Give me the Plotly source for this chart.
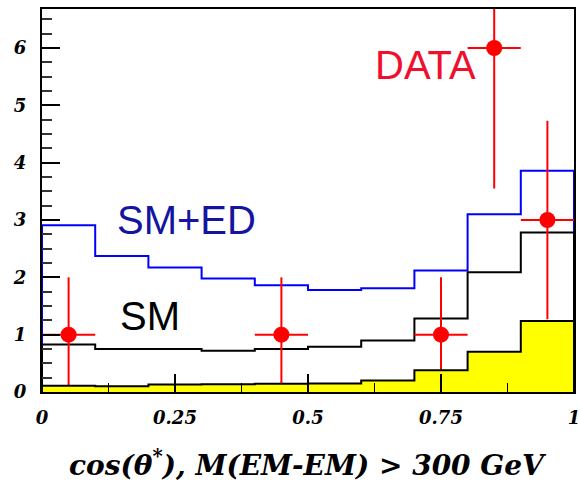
import plotly.graph_objects as go

# ---- data ----
bin_edges = [0.0, 0.1, 0.2, 0.3, 0.4, 0.5, 0.6, 0.7, 0.8, 0.9, 1.0]
sm_ed = [2.91, 2.37, 2.17, 1.98, 1.86, 1.78, 1.81, 2.12, 3.10, 3.86]
sm = [0.83, 0.75, 0.75, 0.72, 0.75, 0.79, 0.90, 1.28, 2.09, 2.78]
bkg = [0.11, 0.10, 0.13, 0.135, 0.145, 0.15, 0.20, 0.38, 0.70, 1.24]
data_x = [0.05, 0.45, 0.75, 0.85, 0.95]
data_y = [1, 1, 1, 6, 3]
data_err = [1.0, 1.0, 1.0, 2.45, 1.73]
data_xerr = [0.05, 0.05, 0.05, 0.05, 0.05]
x_ticks = [0, 0.25, 0.5, 0.75, 1]
y_ticks = [0, 1, 2, 3, 4, 5, 6]


def step_xy(edges, vals):
    xs = [edges[0]] + list(edges[:-1]) + [edges[-1], edges[-1]]
    ys = [0] + list(vals) + [vals[-1], 0]
    return xs, ys


fig = go.Figure()

bx, by = step_xy(bin_edges, sm_ed)
fig.add_trace(go.Scatter(x=bx, y=by, mode="lines", line=dict(color="#0000ff", width=2, shape="hv"),
                         showlegend=False, hoverinfo="skip"))
sx, sy = step_xy(bin_edges, sm)
fig.add_trace(go.Scatter(x=sx, y=sy, mode="lines", line=dict(color="#000000", width=2, shape="hv"),
                         showlegend=False, hoverinfo="skip"))
fig.add_trace(go.Scatter(
    x=data_x, y=data_y, mode="markers",
    marker=dict(color="#ff0000", size=16, line=dict(width=0)),
    error_y=dict(type="data", array=data_err, color="#ff0000", thickness=2, width=0),
    error_x=dict(type="data", array=data_xerr, color="#ff0000", thickness=2, width=0),
    showlegend=False))
yx, yy = step_xy(bin_edges, bkg)
fig.add_trace(go.Scatter(x=yx, y=yy, mode="lines", fill="tozeroy", fillcolor="#ffff00",
                         line=dict(color="#000000", width=2, shape="hv"),
                         showlegend=False, hoverinfo="skip"))

axis_font = dict(family="DejaVu Serif", size=18, color="black")

fig.update_xaxes(range=[0, 1], tickvals=x_ticks, ticktext=[f"<b><i>{v:g}</i></b>" for v in x_ticks],
                 ticks="inside", ticklen=18, tickwidth=1.5, tickcolor="black",
                 minor=dict(dtick=0.125, ticks="inside", ticklen=9, tickcolor="black", tickwidth=1),
                 showline=True, linecolor="black", linewidth=2, mirror=True, automargin=False,
                 ticklabeloverflow="allow",
                 showgrid=False, zeroline=False, tickfont=axis_font, ticklabelstandoff=8)
fig.update_yaxes(range=[0, 6.68], tickvals=y_ticks, ticktext=[f"<b><i>{v}</i></b>" for v in y_ticks],
                 ticks="inside", ticklen=18, tickwidth=1.5, tickcolor="black",
                 minor=dict(dtick=0.25, ticks="inside", ticklen=10, tickcolor="#333333", tickwidth=1.5),
                 showline=True, linecolor="black", linewidth=2, mirror=True, automargin=False,
                 ticklabeloverflow="allow",
                 showgrid=False, zeroline=False, tickfont=axis_font, ticklabelstandoff=10)

ann_font = "Liberation Sans, Arial, sans-serif"
fig.add_annotation(x=0.137, xref="paper", y=3.0, yref="y", text="SM+ED", showarrow=False,
                   xanchor="left", yanchor="middle", font=dict(family=ann_font, size=40, color="#1414a0"))
fig.add_annotation(x=0.143, xref="paper", y=1.33, yref="y", text="SM", showarrow=False,
                   xanchor="left", yanchor="middle", font=dict(family=ann_font, size=40, color="black"))
fig.add_annotation(x=0.622, xref="paper", y=5.71, yref="y", text="DATA", showarrow=False,
                   xanchor="left", yanchor="middle", font=dict(family=ann_font, size=40, color="#f0102e"))
fig.add_annotation(x=0.5, xref="paper", y=-0.186, yref="paper",
                   text="<b><i>cos(θ<sup>*</sup>), M(EM-EM) > 300 GeV</i></b>", showarrow=False,
                   xanchor="center", yanchor="middle",
                   font=dict(family="DejaVu Serif", size=28, color="black"))

fig.update_layout(width=579, height=484, margin=dict(l=42, r=5, t=9, b=92),
                  plot_bgcolor="white", paper_bgcolor="white")

fig.write_html("out.html")
